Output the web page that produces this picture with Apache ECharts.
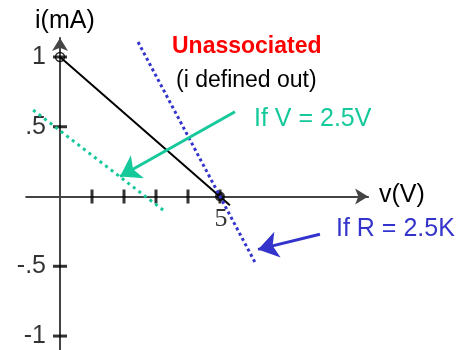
<!DOCTYPE html>
<html>
<head>
<meta charset="utf-8">
<script src="https://cdn.jsdelivr.net/npm/echarts@6/dist/echarts.min.js"></script>
<style>
  html, body { margin: 0; padding: 0; background: #fff; }
  #main { width: 465px; height: 350px; }
</style>
</head>
<body>
<div id="main"></div>
<script>
// load line of the unassociated element (v in V, i in mA)
var loadLine = [[0, 1], [5.31, -0.062]];
// "If R = 2.5K" line
var rLine = [[2.44, 1.107], [6.09, -0.47]];
// "If V = 2.5V" line
var vLine = [[-0.84, 0.62], [3.28, -0.107]];
// pointer arrows [from, to]
var vArrow = [[5.47, 0.607], [1.875, 0.143]];
var rArrow = [[8.125, -0.271], [6.19, -0.379]];
// axis ticks
var xTicks = [1, 2, 3, 4, 5];
var yTicks = [1, 0.5, -0.5, -1];
var yTickLabels = ['1', '.5', '-.5', '-1'];
var openPoint = [0, 1];
var filledPoint = [5, 0];

var green = '#16c99b';
var blue = '#3434cc';
var font = 'Liberation Sans, Arial, sans-serif';

var chart = echarts.init(document.getElementById('main'));
chart.setOption({
    backgroundColor: '#fff',
    animation: false,
    grid: { left: 26.1, top: 38, width: 342, height: 313 },
    xAxis: {
        type: 'value', min: -1.06, max: 9.63,
        axisLine: {
            onZero: true,
            symbol: ['none', 'arrow'],
            symbolSize: [12, 13],
            lineStyle: { color: '#444', width: 2 }
        },
        axisTick: { show: false },
        axisLabel: { show: false },
        splitLine: { show: false }
    },
    yAxis: {
        type: 'value', min: -1.1, max: 1.136,
        axisLine: {
            onZero: true,
            symbol: ['none', 'arrow'],
            symbolSize: [12, 13],
            lineStyle: { color: '#444', width: 2 }
        },
        axisTick: { show: false },
        axisLabel: { show: false },
        splitLine: { show: false }
    },
    series: [
        {
            // x ticks
            type: 'scatter',
            symbol: 'rect',
            symbolSize: [3, 14],
            itemStyle: { color: '#000' },
            data: xTicks.map(function (v) { return [v, 0]; }),
            z: 3
        },
        {
            // y ticks with labels
            type: 'scatter',
            symbol: 'rect',
            symbolSize: [14, 3],
            itemStyle: { color: '#000' },
            data: yTicks.map(function (v, i) {
                return { value: [0, v], label: { formatter: yTickLabels[i] } };
            }),
            label: {
                show: true, position: 'left', distance: 7,
                fontFamily: font, fontSize: 25, color: '#000'
            },
            z: 3
        },
        {
            type: 'line',
            data: loadLine,
            symbol: 'none',
            lineStyle: { color: '#000', width: 2 },
            z: 4
        },
        {
            type: 'scatter',
            data: [filledPoint],
            symbolSize: 10,
            itemStyle: { color: '#000' },
            label: {
                show: true, position: 'bottom', distance: 5,
                offset: [1, 0],
                formatter: '5',
                fontFamily: 'Liberation Serif, Times New Roman, serif',
                fontSize: 26, color: '#000'
            },
            z: 5
        },
        {
            type: 'scatter',
            data: [openPoint],
            symbolSize: 9,
            itemStyle: { color: 'rgba(255,255,255,0)', borderColor: '#000', borderWidth: 1.5 },
            z: 5
        },
        {
            type: 'line',
            data: vLine,
            symbol: 'none',
            lineStyle: { color: green, width: 3, type: [3, 4] },
            z: 6
        },
        {
            type: 'line',
            data: rLine,
            symbol: 'none',
            lineStyle: { color: blue, width: 3, type: [3, 3] },
            z: 6
        },
        {
            type: 'lines',
            coordinateSystem: 'cartesian2d',
            symbol: ['none', 'arrow'],
            symbolSize: 20,
            lineStyle: { color: green, width: 3, opacity: 1 },
            data: [{ coords: vArrow }],
            z: 7
        },
        {
            type: 'lines',
            coordinateSystem: 'cartesian2d',
            symbol: ['none', 'arrow'],
            symbolSize: 20,
            lineStyle: { color: blue, width: 3, opacity: 1 },
            data: [{ coords: rArrow }],
            z: 7
        }
    ],
    graphic: [
        { type: 'text', left: 35, top: 9, style: { text: 'i(mA)', font: '25px ' + font, fill: '#000' } },
        { type: 'text', left: 379, top: 183, style: { text: 'v(V)', font: '25px ' + font, fill: '#000' } },
        { type: 'text', left: 172, top: 35, style: { text: 'Unassociated', font: 'bold 23px ' + font, fill: '#ff0000' } },
        { type: 'text', left: 176, top: 69, style: { text: '(i defined out)', font: '23px ' + font, fill: '#000' } },
        { type: 'text', left: 254, top: 107, style: { text: 'If V = 2.5V', font: '25px ' + font, fill: green } },
        { type: 'text', left: 336, top: 217, style: { text: 'If R = 2.5K', font: '25px ' + font, fill: blue } }
    ]
});
</script>
</body>
</html>
